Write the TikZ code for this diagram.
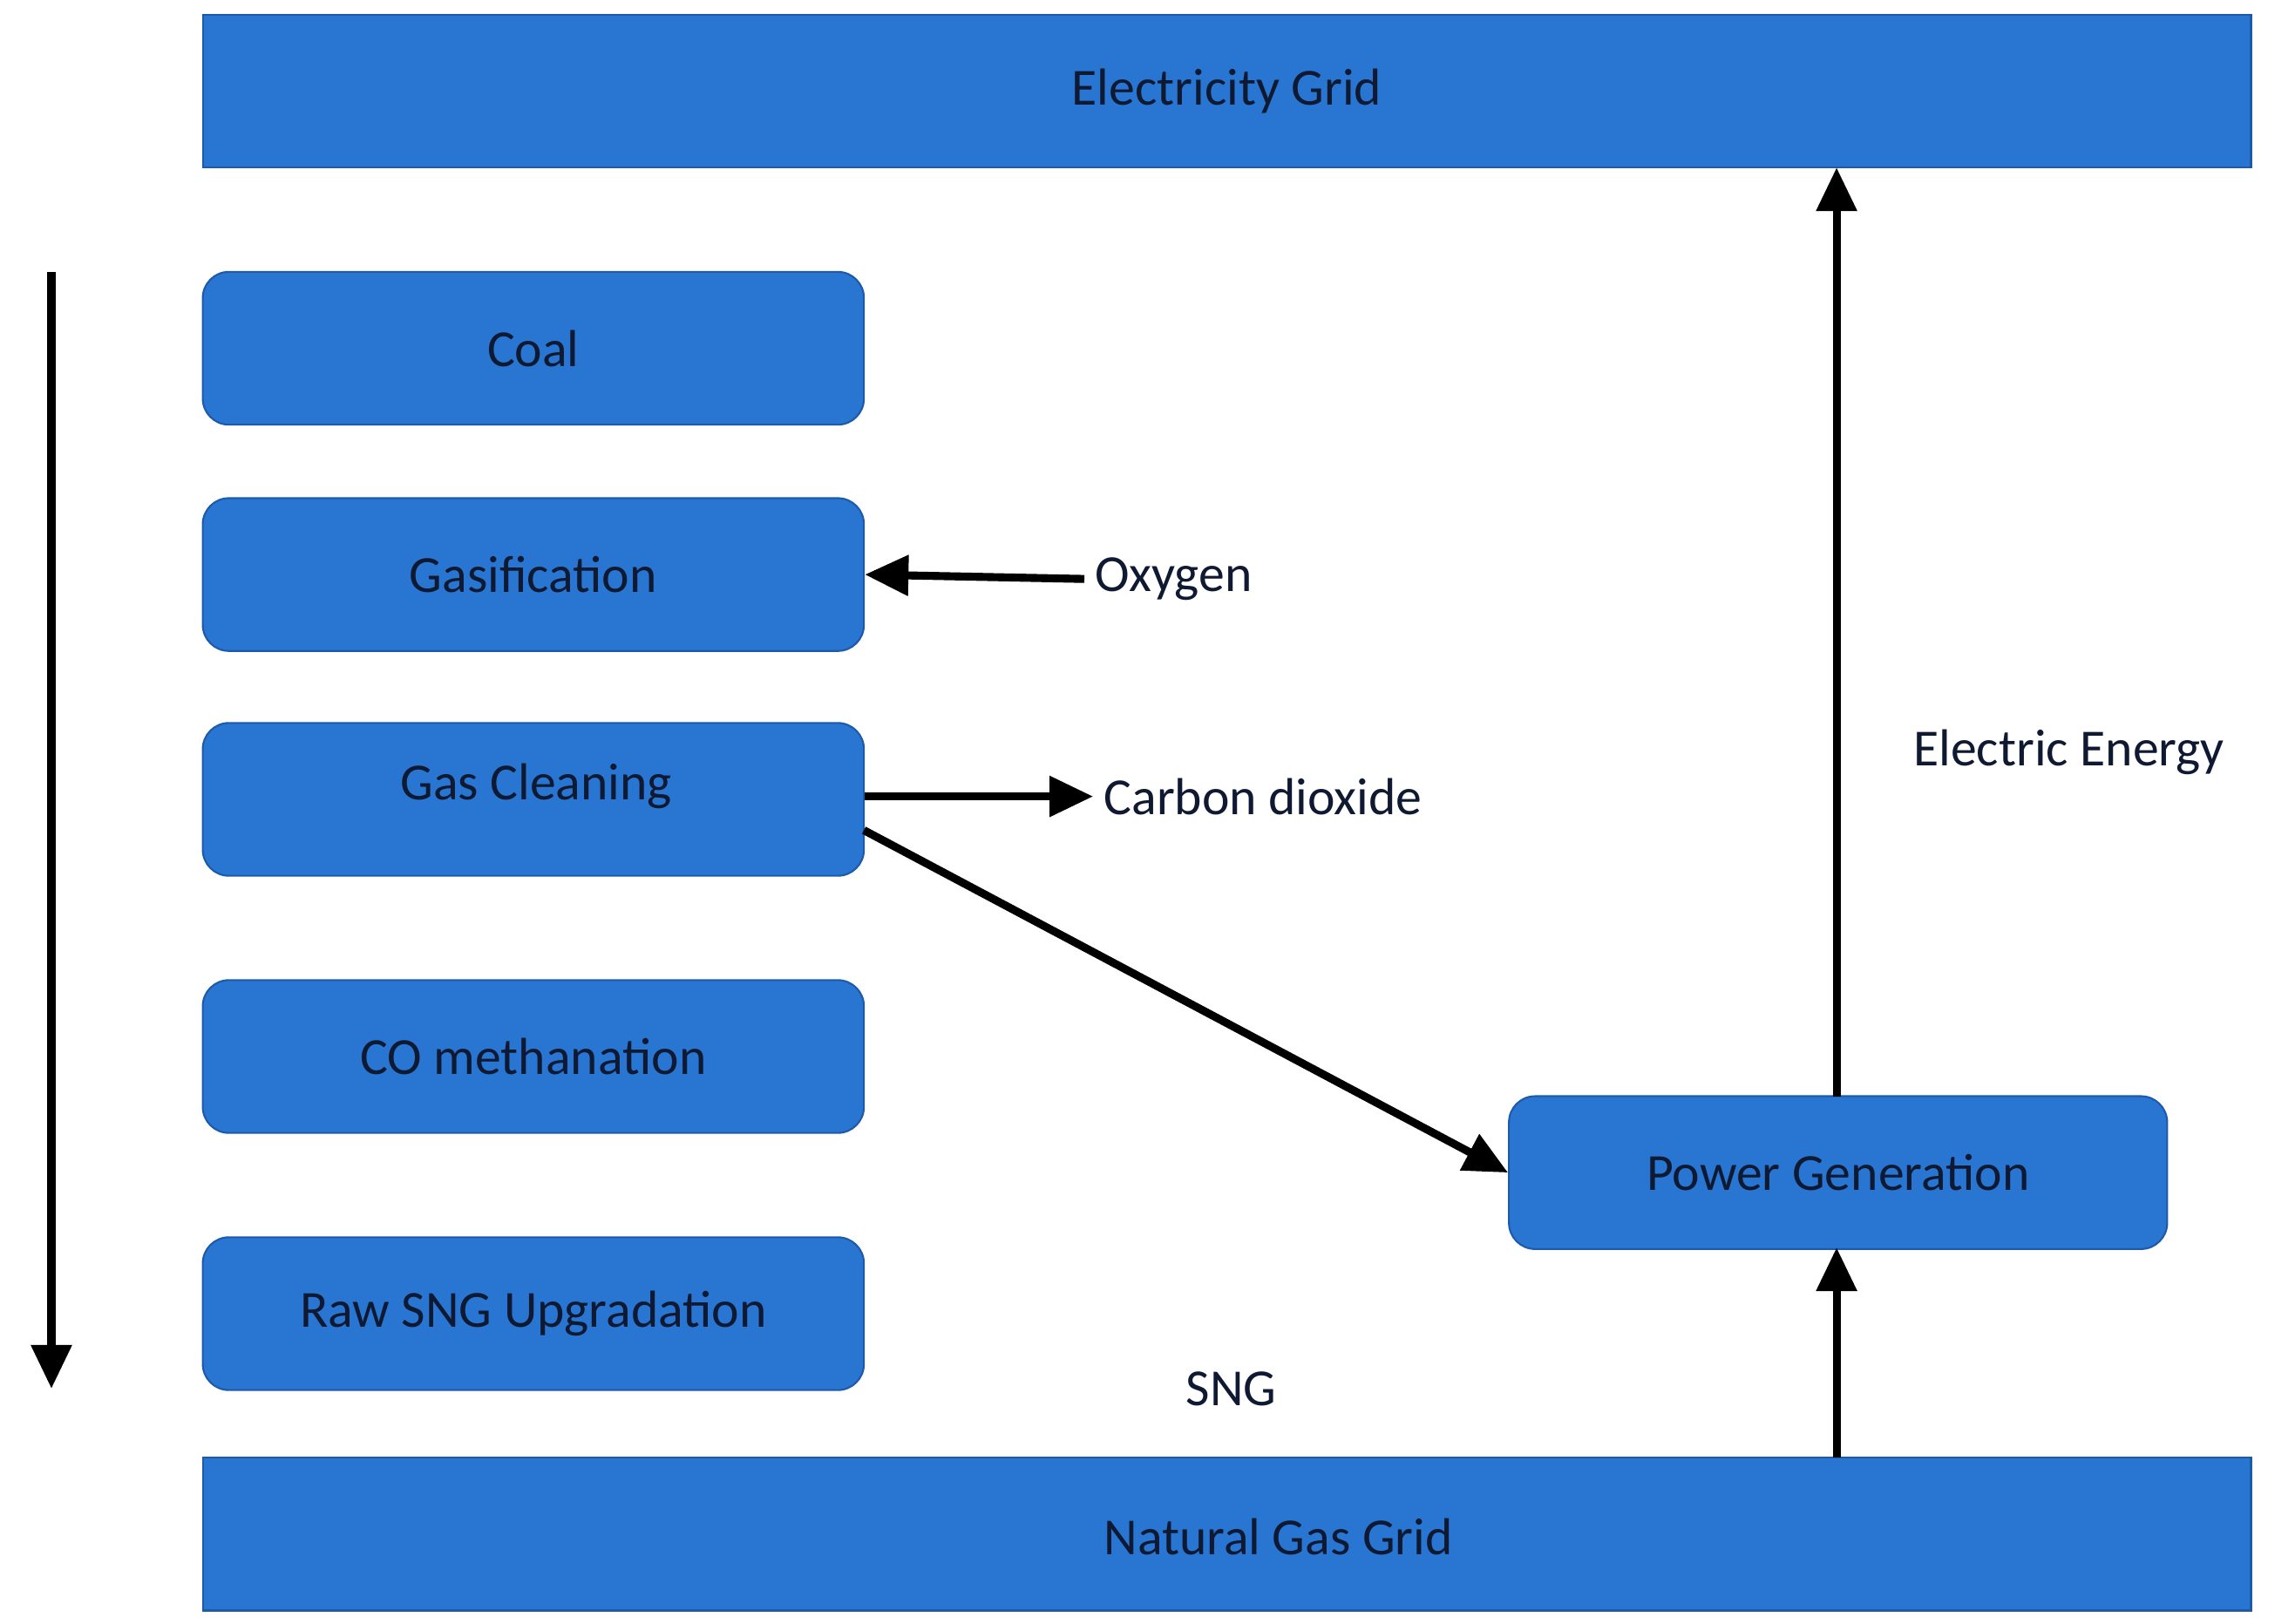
\documentclass[tikz,border=0pt]{standalone}
\usepackage{fontspec}
\setmainfont{Carlito}
\usetikzlibrary{arrows.meta}
\definecolor{boxblue}{RGB}{40,118,210}
\definecolor{boxline}{RGB}{30,90,170}
\definecolor{txt}{RGB}{15,25,50}
\begin{document}
\begin{tikzpicture}[x=0.016857cm,y=-0.016857cm,
  bar/.style={draw=boxline,fill=boxblue,line width=0.6pt},
  box/.style={draw=boxline,fill=boxblue,rounded corners=0.3cm,line width=0.6pt},
  lbl/.style={font=\fontsize{17}{20}\selectfont,text=txt},
  arr/.style={line width=2.6pt,-{Triangle[length=0.5cm,width=0.45cm]}}]
\useasboundingbox (0,0) rectangle (1562,1105);
\node[bar,minimum width=1394*0.016857cm,minimum height=104*0.016857cm,lbl] (eg) at (835,62) {Electricity Grid};
\node[bar,minimum width=1394*0.016857cm,minimum height=104*0.016857cm,lbl] (ng) at (835,1044) {};
\node[lbl] at (870,1046) {Natural Gas Grid};
\node[box,minimum width=450*0.016857cm,minimum height=104*0.016857cm,lbl] (coal) at (363,237) {Coal};
\node[box,minimum width=450*0.016857cm,minimum height=104*0.016857cm,lbl] (gas) at (363,391) {Gasification};
\node[box,minimum width=450*0.016857cm,minimum height=104*0.016857cm] (gc) at (363,544) {};
\node[lbl] at (365,535) {Gas Cleaning};
\node[box,minimum width=450*0.016857cm,minimum height=104*0.016857cm,lbl] (co) at (363,719) {CO methanation};
\node[box,minimum width=450*0.016857cm,minimum height=104*0.016857cm,lbl] (raw) at (363,894) {Raw SNG Upgradation};
\node[box,minimum width=448*0.016857cm,minimum height=104*0.016857cm,lbl] (pg) at (1251,798) {Power Generation};
\node[lbl,anchor=west] (oxy) at (738,394) {Oxygen};
\node[lbl,anchor=west] (cd) at (744,542) {Carbon dioxide};
\node[lbl,anchor=west] (ee) at (1295,512) {Electric Energy};
\node[lbl] (sng) at (838,945) {SNG};
\coordinate (l1) at (35,185);
\coordinate (l2) at (35,945);
\draw[arr] (l1) -- (l2);
\draw[arr] (oxy.west) -- (gas.east);
\draw[arr] (gc.east |- cd.west) -- (cd.west);
\draw[arr] (588,565) -- (pg.west);
\draw[arr] (1250,746) -- (1250,114);
\draw[arr] (1250,992) -- (1250,849);
\end{tikzpicture}
\end{document}
